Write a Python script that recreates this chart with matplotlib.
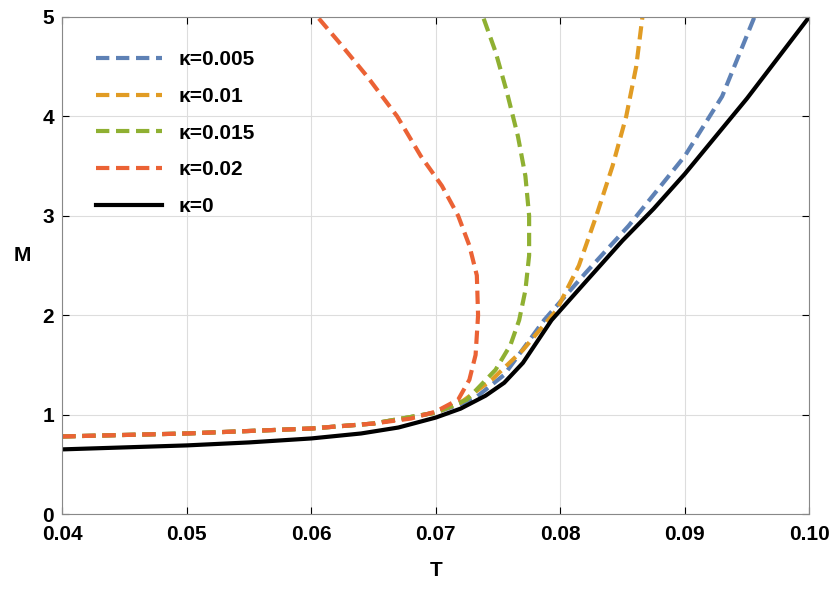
import matplotlib
matplotlib.use("Agg")
import matplotlib.pyplot as plt

plt.rcParams["font.family"] = "Liberation Sans"
plt.rcParams["font.weight"] = "bold"

T_k0 = [0.040, 0.045, 0.050, 0.055, 0.060, 0.064, 0.067, 0.070, 0.072, 0.074, 0.0755, 0.077, 0.0793, 0.082, 0.085, 0.0875, 0.090, 0.095, 0.100]
M_k0 = [0.65, 0.67, 0.69, 0.72, 0.76, 0.81, 0.87, 0.97, 1.06, 1.19, 1.32, 1.52, 1.95, 2.33, 2.75, 3.07, 3.42, 4.18, 5.0]

T_k005 = [0.040, 0.050, 0.060, 0.065, 0.070, 0.073, 0.0755, 0.0787, 0.082, 0.0855, 0.090, 0.093, 0.0956]
M_k005 = [0.78, 0.81, 0.86, 0.91, 1.02, 1.15, 1.40, 1.95, 2.42, 2.9, 3.6, 4.2, 5.0]

T_k01 = [0.040, 0.050, 0.060, 0.065, 0.070, 0.072, 0.0745, 0.0770, 0.0797, 0.0815, 0.0829, 0.0842, 0.0853, 0.0861, 0.0866]
M_k01 = [0.78, 0.81, 0.86, 0.91, 1.02, 1.12, 1.35, 1.65, 2.05, 2.5, 3.0, 3.5, 4.0, 4.5, 5.0]

T_k015 = [0.040, 0.050, 0.060, 0.065, 0.070, 0.0725, 0.0748, 0.0760, 0.0767, 0.0772, 0.0775, 0.0775, 0.0772, 0.0766, 0.0757, 0.0748, 0.0738]
M_k015 = [0.78, 0.81, 0.86, 0.91, 1.02, 1.15, 1.45, 1.70, 1.95, 2.25, 2.60, 3.00, 3.40, 3.80, 4.25, 4.65, 5.0]

T_k02 = [0.040, 0.050, 0.060, 0.065, 0.068, 0.070, 0.0718, 0.0727, 0.0732, 0.0734, 0.0733, 0.0727, 0.0718, 0.0705, 0.0688, 0.0669, 0.0645, 0.0622, 0.0605]
M_k02 = [0.78, 0.81, 0.86, 0.91, 0.96, 1.03, 1.15, 1.35, 1.60, 2.0, 2.4, 2.7, 3.0, 3.3, 3.6, 4.0, 4.4, 4.75, 5.0]

labels = ["κ=0.005", "κ=0.01", "κ=0.015", "κ=0.02", "κ=0"]
colors = ["#5E81B5", "#E19C24", "#8FB032", "#EB6235", "black"]

fig, ax = plt.subplots(figsize=(8.3, 6.04), dpi=100)
fig.subplots_adjust(left=0.075, right=0.975, top=0.972, bottom=0.149)
series = [(T_k005, M_k005), (T_k01, M_k01), (T_k015, M_k015), (T_k02, M_k02)]
for (t, m), lab, c in zip(series, labels[:4], colors[:4]):
    ax.plot(t, m, color=c, lw=3, ls=(0, (3.2, 1.6)), label=lab, solid_joinstyle="round")
ax.plot(T_k0, M_k0, color="black", lw=3, label=labels[4], solid_joinstyle="round")

ax.set_xlim(0.04, 0.10)
ax.set_ylim(0, 5)
ax.set_xticks([0.04, 0.05, 0.06, 0.07, 0.08, 0.09, 0.10])
ax.set_xticklabels(["0.04", "0.05", "0.06", "0.07", "0.08", "0.09", "0.10"])
ax.set_yticks([0, 1, 2, 3, 4, 5])
ax.grid(True, color="#dddddd", lw=0.8)
ax.tick_params(direction="in", labelsize=15, top=True, right=True, length=5)
ax.tick_params(axis="x", pad=8)
ax.tick_params(axis="y", pad=6)
for s in ax.spines.values():
    s.set_color("#888888")
ax.set_xlabel("T", fontsize=15, fontweight="bold", labelpad=12)
ax.set_ylabel("M", fontsize=15, fontweight="bold", rotation=0, labelpad=14)
ax.legend(loc="upper left", frameon=False, fontsize=15, handlelength=3.2,
          labelspacing=0.85, borderaxespad=1.2)
fig.savefig("out.png")
